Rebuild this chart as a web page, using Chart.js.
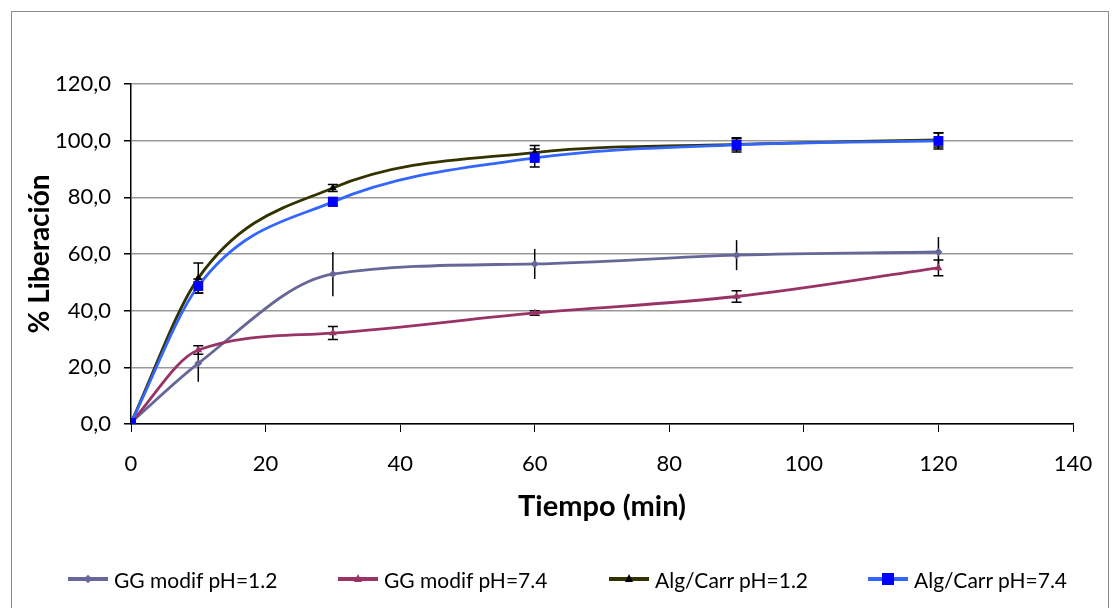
<!DOCTYPE html>
<html>
<head>
<meta charset="utf-8">
<script src="https://cdn.jsdelivr.net/npm/chart.js@4/dist/chart.umd.min.js"></script>
<style>
body{margin:0;background:#fff;font-family:Lato,"Noto Sans",sans-serif}
#wrap{position:relative;width:1114px;height:608px;overflow:hidden}
#frame{position:absolute;left:11px;top:11px;width:1096px;height:640px;border:1px solid #8c8c8c}
#c{position:absolute;left:0;top:0}
#legend{position:absolute;top:567px;left:0;width:1114px;height:24px;font-size:21px;color:#000}
.item{position:absolute;top:0;display:flex;align-items:center;height:24px}
.sym{position:relative;width:40px;height:24px;margin-right:6px}
.sym .ln{position:absolute;left:0;right:0;top:10px;height:4px}
.sym .mk{position:absolute;left:50%;top:50%}
</style>
</head>
<body>
<div id="wrap">
<div id="frame"></div>
<canvas id="c" width="1114" height="608"></canvas>
<div id="legend"></div>
</div>
<script>
// tiempos de muestreo (min)
const tiempos = [0, 10, 30, 60, 90, 120]

const ggPh12 = [0.5, 21.4, 52.9, 56.5, 59.6, 60.7]
const ggPh12Err = [0, 6.5, 7.8, 5.3, 5.3, 5.3]
const ggPh74 = [0.5, 26.1, 32.1, 39.2, 45.0, 55.1]
const ggPh74Err = [0, 1.5, 2.3, 0.8, 2.0, 2.8]
const algPh12 = [0.5, 51.5, 83.3, 95.8, 98.7, 100.3]
const algPh12Err = [0, 5.3, 1.2, 2.5, 2.0, 2.5]
const algPh74 = [0.4, 48.7, 78.4, 93.9, 98.5, 99.9]
const algPh74Err = [0, 2.5, 1.5, 3.2, 2.5, 2.8]

const labels = ["GG modif pH=1.2", "GG modif pH=7.4", "Alg/Carr pH=1.2", "Alg/Carr pH=7.4"]
const lineColors = ["#666699", "#993366", "#333300", "#3366ff"]
const markColors = ["#666699", "#993366", "#000000", "#0000ff"]

function pts(ys){
    return tiempos.map((t,i) => ({x:t, y:ys[i]}))
}

const errs = [ggPh12Err, ggPh74Err, algPh12Err, algPh74Err]
const caps = [false, true, true, true]

// barras de error debajo de las series
const errorBars = {
    id: "errorBars",
    beforeDatasetsDraw(chart){
        const ctx = chart.ctx
        const xs = chart.scales.x, ys = chart.scales.y
        ctx.save()
        ctx.strokeStyle = "#000"
        ctx.lineWidth = 1.5
        chart.data.datasets.forEach((ds, d) => {
            ds.data.forEach((p, i) => {
                const e = errs[d][i]
                if (!e) return
                const x = xs.getPixelForValue(p.x)
                const y1 = ys.getPixelForValue(p.y + e)
                const y2 = ys.getPixelForValue(p.y - e)
                ctx.beginPath()
                ctx.moveTo(x, y1); ctx.lineTo(x, y2)
                if (caps[d]){
                    ctx.moveTo(x-5, y1); ctx.lineTo(x+5, y1)
                    ctx.moveTo(x-5, y2); ctx.lineTo(x+5, y2)
                }
                ctx.stroke()
            })
        })
        ctx.restore()
    }
}

const font = "Lato, 'Noto Sans', sans-serif"

const chart = new Chart(document.getElementById("c"), {
    type: "scatter",
    data: {
        datasets: [
            {label: labels[0], data: pts(ggPh12), order: 4, pointStyle: "rectRot", pointRadius: 4},
            {label: labels[1], data: pts(ggPh74), order: 3, pointStyle: "triangle", pointRadius: 4.5},
            {label: labels[2], data: pts(algPh12), order: 2, pointStyle: "triangle", pointRadius: 4.5},
            {label: labels[3], data: pts(algPh74), order: 1, pointStyle: "rect", pointRadius: 7}
        ].map((ds, i) => Object.assign(ds, {
            showLine: true,
            cubicInterpolationMode: "monotone",
            borderColor: lineColors[i],
            borderWidth: 2.8,
            pointBackgroundColor: markColors[i],
            pointBorderColor: markColors[i],
            pointBorderWidth: 0
        }))
    },
    options: {
        responsive: false,
        animation: false,
        events: [],
        layout: {padding: {left: 20, top: 84, right: 41, bottom: 84}},
        plugins: {legend: {display: false}, tooltip: {enabled: false}},
        scales: {
            x: {
                type: "linear", min: 0, max: 140,
                ticks: {stepSize: 20, color: "#000", font: {family: font, size: 22}, padding: 19},
                grid: {drawOnChartArea: false, drawTicks: true, tickLength: 8, color: "#000"},
                border: {color: "#000", width: 1.5},
                title: {display: true, text: "Tiempo (min)", color: "#000",
                    font: {family: font, size: 29, weight: "bold"}, padding: {bottom: 0}},
                afterFit: s => { s.height = 100 }
            },
            y: {
                min: 0, max: 120,
                ticks: {stepSize: 20, color: "#000", font: {family: font, size: 22}, padding: 13,
                    callback: v => v.toFixed(1).replace(".", ",")},
                grid: {color: "#999", lineWidth: 1.5, tickLength: 7, tickColor: "#000"},
                border: {color: "#000", width: 1.5},
                title: {display: true, text: "% Liberación", color: "#000",
                    font: {family: font, size: 28, weight: "bold"}, padding: {top: 3}},
                afterFit: s => { s.width = 111 }
            }
        }
    },
    plugins: [errorBars]
})

// leyenda en html
const legendX = [68, 338, 609, 868]
const lg = document.getElementById("legend")
labels.forEach((l, i) => {
    const it = document.createElement("div")
    it.className = "item"
    it.style.left = legendX[i] + "px"
    let mk = ""
    if (i == 0) mk = '<div class="mk" style="width:6px;height:6px;margin:-3px 0 0 -3px;background:'+markColors[i]+';transform:rotate(45deg)"></div>'
    else if (i == 3) mk = '<div class="mk" style="width:12px;height:12px;margin:-6px 0 0 -6px;background:'+markColors[i]+'"></div>'
    else mk = '<div class="mk" style="width:0;height:0;margin:-5px 0 0 -4px;border-left:4px solid transparent;border-right:4px solid transparent;border-bottom:8px solid '+markColors[i]+'"></div>'
    it.innerHTML = '<div class="sym"><div class="ln" style="background:'+lineColors[i]+'"></div>'+mk+'</div><span>'+l+'</span>'
    lg.appendChild(it)
})
</script>
</body>
</html>
